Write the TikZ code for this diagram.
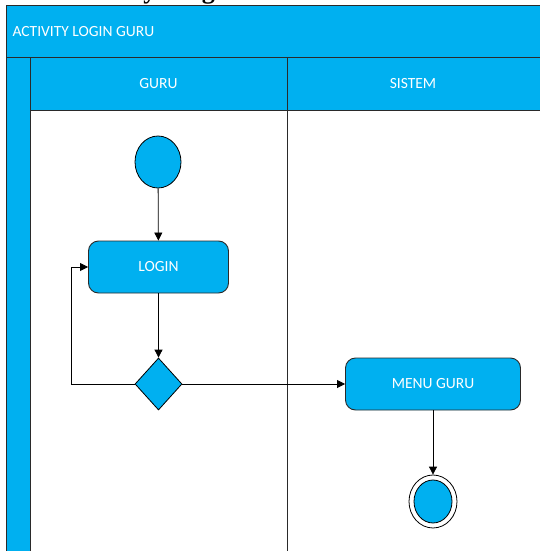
\documentclass[tikz,border=0pt]{standalone}
\usepackage{fontspec}
\setmainfont{Carlito}
\newfontfamily\headfont{Liberation Serif}
\usetikzlibrary{arrows.meta,shapes.geometric}
\definecolor{laneblue}{HTML}{00B0F0}
\definecolor{edgegray}{HTML}{2A2A2A}
\tikzset{
  band/.style={fill=laneblue,draw=edgegray,line width=1pt},
  lanetext/.style={text=white,font=\fontsize{15.5}{18}\selectfont},
  action/.style={draw=edgegray,fill=laneblue,line width=0.9pt,rounded corners=10pt,
    minimum width=140pt,minimum height=52pt,text=white,font=\fontsize{15.5}{18}\selectfont},
  flow/.style={draw=black,line width=0.8pt,-{Triangle[length=8pt,width=8pt]}},
}
\begin{document}
\begin{tikzpicture}[x=1pt,y=-1pt]
\useasboundingbox (0,0) rectangle (539,551);
% heading text running off the top edge
\begin{scope}
  \clip (0,0) rectangle (539,551);
  \node[anchor=base west,inner sep=0pt,font=\headfont\bfseries\fontsize{26}{30}\selectfont] (heading) at (68,-1.5) {Activity Diagram};
\end{scope}
% swimlane frame
\fill[white] (6,58) rectangle (545,560);
\draw[band] (6,6) rectangle (545,58);
\node[lanetext,anchor=west] (title) at (9,32) {ACTIVITY LOGIN GURU};
\draw[band] (6,58) rectangle (30,560);
\draw[band] (30,58) rectangle (287,110);
\draw[band] (287,58) rectangle (545,110);
\node[lanetext] (guru) at (158.5,84) {GURU};
\node[lanetext] (sistem) at (413,84) {SISTEM};
\draw[edgegray,line width=1pt] (287,110) -- (287,560);
\draw[edgegray,line width=1pt] (30,110) -- (30,560);
% nodes
\node[ellipse,draw=black,fill=laneblue,line width=0.8pt,minimum width=46pt,minimum height=52pt,inner sep=0pt] (start) at (158,162) {};
\node[action] (login) at (158.5,267) {LOGIN};
\node[diamond,draw=black,fill=laneblue,line width=0.8pt,minimum width=47pt,minimum height=52pt,inner sep=0pt,aspect=0.9] (choice) at (158.5,384) {};
\node[action,minimum width=175pt] (menu) at (433,384) {MENU GURU};
\node[ellipse,draw=black,fill=white,line width=0.8pt,minimum width=48pt,minimum height=53pt,inner sep=0pt] (endring) at (433,501.5) {};
\node[ellipse,draw=black,fill=laneblue,line width=0.8pt,minimum width=38pt,minimum height=43pt,inner sep=0pt] (enddot) at (433,501.5) {};
\coordinate (loopA) at (71,384);
\coordinate (loopB) at (71,267);
% connectors
\draw[flow] (start) -- (login);
\draw[flow] (login) -- (choice);
\draw[flow] (choice.west) -- (loopA) -- (loopB) -- (login.west);
\draw[flow] (choice.east) -- (menu.west);
\draw[flow] (menu) -- (endring);
\end{tikzpicture}
\end{document}
